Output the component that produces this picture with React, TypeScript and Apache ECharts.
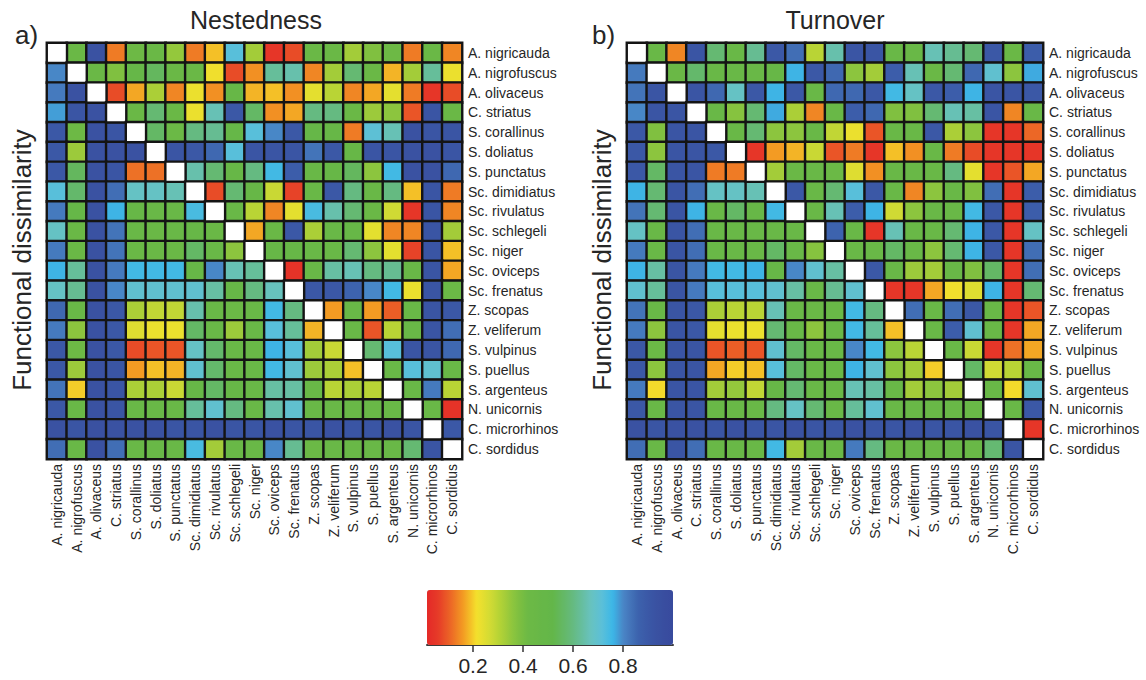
import React, { useEffect, useRef } from "react";
import * as echarts from "echarts";

const species = [
  "A. nigricauda", "A. nigrofuscus", "A. olivaceus", "C. striatus", "S. corallinus",
  "S. doliatus", "S. punctatus", "Sc. dimidiatus", "Sc. rivulatus", "Sc. schlegeli",
  "Sc. niger", "Sc. oviceps", "Sc. frenatus", "Z. scopas", "Z. veliferum",
  "S. vulpinus", "S. puellus", "S. argenteus", "N. unicornis", "C. microrhinos", "C. sordidus",
];

const nestedness: (number | null)[][] = [
  [null,0.45,0.93,0.13,0.42,0.45,0.35,0.13,0.19,0.72,0.33,0.05,0.08,0.45,0.45,0.33,0.38,0.42,0.13,0.45,0.14],
  [0.8,null,0.45,0.38,0.48,0.55,0.45,0.45,0.22,0.08,0.15,0.63,0.65,0.14,0.33,0.58,0.45,0.18,0.33,0.63,0.23],
  [0.82,0.93,null,0.08,0.17,0.32,0.14,0.23,0.15,0.47,0.18,0.19,0.15,0.24,0.3,0.14,0.17,0.24,0.13,0.05,0.08],
  [0.78,0.92,0.93,null,0.45,0.58,0.45,0.23,0.66,0.9,0.56,0.15,0.17,0.6,0.6,0.45,0.34,0.36,0.09,0.92,0.45],
  [0.9,0.42,0.93,0.92,null,0.56,0.44,0.6,0.62,0.48,0.72,0.8,0.9,0.48,0.47,0.13,0.71,0.66,0.93,0.92,0.92],
  [0.9,0.34,0.93,0.93,0.93,null,0.92,0.9,0.85,0.72,0.92,0.92,0.92,0.83,0.9,0.47,0.92,0.92,0.93,0.93,0.92],
  [0.9,0.55,0.93,0.92,0.12,0.12,null,0.65,0.58,0.47,0.6,0.75,0.88,0.46,0.47,0.55,0.36,0.75,0.93,0.93,0.85],
  [0.72,0.57,0.93,0.84,0.68,0.68,0.66,null,0.08,0.58,0.47,0.28,0.07,0.46,0.9,0.6,0.46,0.6,0.19,0.92,0.13],
  [0.82,0.48,0.93,0.76,0.47,0.46,0.46,0.74,null,0.46,0.3,0.14,0.24,0.74,0.65,0.58,0.45,0.27,0.05,0.92,0.14],
  [0.68,0.45,0.93,0.83,0.46,0.45,0.46,0.47,0.45,null,0.17,0.45,0.9,0.32,0.46,0.47,0.24,0.14,0.14,0.92,0.33],
  [0.82,0.45,0.93,0.83,0.45,0.45,0.45,0.56,0.46,0.36,null,0.47,0.47,0.46,0.46,0.58,0.36,0.24,0.07,0.92,0.19],
  [0.76,0.63,0.93,0.82,0.75,0.75,0.75,0.47,0.8,0.66,0.63,null,0.04,0.46,0.64,0.66,0.6,0.62,0.46,0.92,0.17],
  [0.68,0.62,0.93,0.8,0.7,0.7,0.7,0.7,0.64,0.47,0.6,0.67,null,0.9,0.9,0.86,0.8,0.75,0.23,0.92,0.43],
  [0.85,0.46,0.93,0.9,0.32,0.29,0.29,0.65,0.46,0.44,0.46,0.75,0.6,null,0.16,0.46,0.16,0.1,0.46,0.92,0.9],
  [0.82,0.36,0.93,0.9,0.25,0.23,0.23,0.56,0.46,0.34,0.46,0.72,0.63,0.18,null,0.46,0.09,0.3,0.46,0.92,0.84],
  [0.9,0.42,0.93,0.9,0.08,0.09,0.09,0.68,0.57,0.46,0.46,0.76,0.72,0.33,0.28,null,0.58,0.72,0.92,0.92,0.85],
  [0.9,0.34,0.93,0.92,0.16,0.19,0.18,0.7,0.57,0.46,0.46,0.75,0.7,0.34,0.32,0.19,null,0.46,0.72,0.7,0.46],
  [0.83,0.2,0.93,0.92,0.32,0.32,0.28,0.47,0.56,0.47,0.46,0.64,0.64,0.46,0.3,0.32,0.3,null,0.46,0.82,0.3],
  [0.9,0.46,0.93,0.92,0.46,0.46,0.46,0.63,0.7,0.6,0.46,0.65,0.7,0.46,0.46,0.46,0.46,0.46,null,0.46,0.04],
  [0.93,0.92,0.94,0.93,0.93,0.93,0.92,0.92,0.93,0.92,0.92,0.93,0.92,0.92,0.93,0.92,0.92,0.93,0.92,null,0.9],
  [0.84,0.46,0.93,0.84,0.46,0.46,0.46,0.74,0.33,0.46,0.46,0.8,0.62,0.44,0.46,0.46,0.46,0.46,0.58,0.92,null],
];

const turnover: (number | null)[][] = [
  [null,0.46,0.14,0.92,0.58,0.46,0.62,0.9,0.84,0.3,0.65,0.92,0.92,0.46,0.46,0.66,0.62,0.58,0.9,0.45,0.88],
  [0.82,null,0.45,0.57,0.46,0.46,0.46,0.47,0.76,0.9,0.85,0.36,0.33,0.88,0.66,0.45,0.58,0.85,0.7,0.36,0.77],
  [0.83,0.92,null,0.92,0.85,0.68,0.9,0.76,0.9,0.46,0.85,0.85,0.9,0.75,0.68,0.9,0.88,0.76,0.92,0.92,0.9],
  [0.8,0.92,0.92,null,0.46,0.37,0.58,0.77,0.32,0.14,0.46,0.88,0.85,0.38,0.38,0.58,0.66,0.64,0.92,0.14,0.46],
  [0.9,0.38,0.92,0.92,null,0.46,0.58,0.36,0.36,0.46,0.29,0.23,0.09,0.46,0.46,0.9,0.32,0.36,0.05,0.05,0.11],
  [0.9,0.36,0.92,0.92,0.9,null,0.05,0.16,0.18,0.28,0.09,0.13,0.05,0.19,0.15,0.46,0.13,0.08,0.05,0.05,0.05],
  [0.9,0.56,0.92,0.92,0.13,0.13,null,0.33,0.45,0.46,0.44,0.25,0.15,0.46,0.46,0.46,0.6,0.24,0.05,0.09,0.17],
  [0.76,0.58,0.92,0.84,0.68,0.68,0.66,null,0.9,0.46,0.58,0.72,0.9,0.46,0.14,0.36,0.46,0.38,0.84,0.05,0.88],
  [0.83,0.58,0.92,0.76,0.46,0.56,0.47,0.75,null,0.46,0.66,0.88,0.76,0.27,0.36,0.46,0.46,0.75,0.9,0.05,0.88],
  [0.68,0.46,0.92,0.84,0.46,0.46,0.46,0.46,0.46,null,0.86,0.46,0.05,0.66,0.46,0.46,0.58,0.76,0.9,0.05,0.68],
  [0.82,0.46,0.92,0.84,0.46,0.46,0.46,0.56,0.46,0.37,null,0.46,0.46,0.56,0.46,0.36,0.58,0.76,0.9,0.05,0.84],
  [0.76,0.64,0.92,0.82,0.75,0.75,0.76,0.47,0.8,0.7,0.64,null,0.9,0.46,0.34,0.33,0.46,0.38,0.56,0.05,0.84],
  [0.7,0.63,0.92,0.82,0.72,0.72,0.72,0.7,0.64,0.46,0.62,0.7,null,0.05,0.05,0.17,0.22,0.25,0.76,0.05,0.58],
  [0.83,0.46,0.92,0.9,0.32,0.3,0.3,0.66,0.46,0.45,0.46,0.75,0.6,null,0.84,0.46,0.84,0.9,0.46,0.05,0.09],
  [0.82,0.36,0.92,0.9,0.24,0.23,0.23,0.58,0.46,0.36,0.46,0.75,0.63,0.19,null,0.46,0.88,0.7,0.46,0.05,0.17],
  [0.9,0.44,0.92,0.92,0.09,0.1,0.09,0.7,0.56,0.46,0.46,0.8,0.75,0.36,0.3,null,0.46,0.28,0.05,0.12,0.17],
  [0.9,0.36,0.92,0.92,0.17,0.2,0.19,0.72,0.56,0.46,0.46,0.76,0.7,0.36,0.33,0.2,null,0.56,0.27,0.3,0.46],
  [0.82,0.21,0.92,0.92,0.33,0.35,0.29,0.47,0.58,0.46,0.46,0.66,0.64,0.46,0.33,0.36,0.33,null,0.46,0.21,0.7],
  [0.9,0.46,0.92,0.92,0.46,0.46,0.46,0.6,0.68,0.58,0.46,0.63,0.7,0.46,0.46,0.46,0.46,0.46,null,0.46,0.9],
  [0.93,0.92,0.93,0.93,0.92,0.93,0.92,0.92,0.93,0.92,0.92,0.93,0.92,0.92,0.93,0.92,0.92,0.93,0.92,null,0.05],
  [0.84,0.46,0.92,0.84,0.46,0.46,0.46,0.75,0.33,0.46,0.46,0.82,0.6,0.45,0.46,0.46,0.46,0.46,0.58,0.92,null],
];

const colorbarTicks = [0.2, 0.4, 0.6, 0.8];
const VMIN = 0.016;
const VMAX = 1.0;

// colour ramp anchors (style)
const anchors: [number, string][] = [
  [0.016, "#e42a28"], [0.06, "#e63a28"], [0.11, "#ec6726"], [0.16, "#f39a22"],
  [0.215, "#f4e12c"], [0.26, "#d8dc33"], [0.31, "#b2d236"], [0.37, "#85c23f"],
  [0.42, "#6cb945"], [0.52, "#63b649"], [0.6, "#65ba80"], [0.67, "#68c2be"],
  [0.715, "#5cc0d8"], [0.76, "#3bb7e8"], [0.8, "#4a86c6"], [0.86, "#3c62ad"],
  [0.93, "#3a52a2"], [1.0, "#384a9d"],
];

function hexToRgb(h: string) {
  const n = parseInt(h.slice(1), 16);
  return [(n >> 16) & 255, (n >> 8) & 255, n & 255];
}
function colorAt(v: number) {
  for (let i = 0; i < anchors.length - 1; i++) {
    const [v0, c0] = anchors[i];
    const [v1, c1] = anchors[i + 1];
    if (v <= v1 || i === anchors.length - 2) {
      const t = Math.max(0, Math.min(1, (v - v0) / (v1 - v0)));
      const a = hexToRgb(c0), b = hexToRgb(c1);
      const r = a.map((x, k) => Math.round(x + (b[k] - x) * t));
      return `rgb(${r[0]},${r[1]},${r[2]})`;
    }
  }
  return anchors[anchors.length - 1][1];
}
const rampColors = Array.from({ length: 81 }, (_, i) => colorAt(VMIN + ((VMAX - VMIN) * i) / 80));

function toCells(m: (number | null)[][]) {
  const out: number[][] = [];
  m.forEach((row, r) => row.forEach((v, c) => { if (v !== null) out.push([c, r, v]); }));
  return out;
}
const diagCells = species.map((_, i) => [i, i, 0]);

const FONT = "'Liberation Sans', Arial, Helvetica, sans-serif";
const TXT = "#262626";
const cellStyle = { borderColor: "#141414", borderWidth: 2.4 };

export default function App() {
  const ref = useRef<HTMLDivElement>(null);
  useEffect(() => {
    if (!ref.current) return;
    const chart = echarts.init(ref.current, undefined, { renderer: "svg" });
    const catX = (gi: number) => ({
      type: "category", gridIndex: gi, data: species, position: "bottom",
      axisLine: { show: false }, axisTick: { show: false }, splitLine: { show: false },
      axisLabel: { rotate: 90, interval: 0, fontSize: 14, color: TXT, fontFamily: FONT, margin: 5 },
    });
    const catY = (gi: number) => ({
      type: "category", gridIndex: gi, data: species, position: "right", inverse: true,
      axisLine: { show: false }, axisTick: { show: false }, splitLine: { show: false },
      axisLabel: { interval: 0, fontSize: 14, color: TXT, fontFamily: FONT, margin: 6 },
    });
    chart.setOption({
      animation: false,
      backgroundColor: "#ffffff",
      grid: [
        { left: 47, top: 43, width: 415, height: 416 },
        { left: 627, top: 43, width: 416, height: 416 },
        { left: 427, top: 590, width: 246, height: 55 },
      ],
      xAxis: [
        catX(0), catX(1),
        {
          type: "value", gridIndex: 2, min: VMIN, max: VMAX, position: "bottom",
          axisLine: { show: true, lineStyle: { color: "#3a3a3a", width: 2 } },
          axisTick: { show: true, customValues: colorbarTicks, length: 7, lineStyle: { color: "#333", width: 1.5 } },
          axisLabel: { customValues: colorbarTicks, fontSize: 21, color: TXT, fontFamily: FONT, margin: 10 },
          splitLine: { show: false },
        },
      ],
      yAxis: [
        catY(0), catY(1),
        { type: "value", gridIndex: 2, show: false, min: 0, max: 1 },
      ],
      visualMap: [
        {
          type: "continuous", min: VMIN, max: VMAX, seriesIndex: [0, 2],
          orient: "horizontal", left: 427, top: 590, itemWidth: 55, itemHeight: 246,
          calculable: false, hoverLink: false, padding: 0, showLabel: false,
          inRange: { color: rampColors },
        },
        {
          type: "continuous", min: 0, max: 1, seriesIndex: [1, 3], show: false,
          inRange: { color: ["#ffffff", "#ffffff"] },
        },
      ],
      graphic: [
        { type: "text", left: 15, top: 22, style: { text: "a)", font: `26px ${FONT}`, fill: TXT } },
        { type: "text", left: 592, top: 22, style: { text: "b)", font: `26px ${FONT}`, fill: TXT } },
        { type: "text", x: 256, y: 20, style: { text: "Nestedness", font: `25px ${FONT}`, fill: TXT, align: "center", verticalAlign: "middle" } },
        { type: "text", x: 835, y: 20, style: { text: "Turnover", font: `25px ${FONT}`, fill: TXT, align: "center", verticalAlign: "middle" } },
        { type: "text", x: 22, y: 260, rotation: Math.PI / 2, style: { text: "Functional dissimilarity", font: `26px ${FONT}`, fill: TXT, align: "center", verticalAlign: "middle" } },
        { type: "text", x: 602, y: 260, rotation: Math.PI / 2, style: { text: "Functional dissimilarity", font: `26px ${FONT}`, fill: TXT, align: "center", verticalAlign: "middle" } },
      ],
      series: [
        { type: "heatmap", xAxisIndex: 0, yAxisIndex: 0, data: toCells(nestedness), itemStyle: cellStyle, emphasis: { disabled: true } },
        { type: "heatmap", xAxisIndex: 0, yAxisIndex: 0, data: diagCells, itemStyle: cellStyle, emphasis: { disabled: true } },
        { type: "heatmap", xAxisIndex: 1, yAxisIndex: 1, data: toCells(turnover), itemStyle: cellStyle, emphasis: { disabled: true } },
        { type: "heatmap", xAxisIndex: 1, yAxisIndex: 1, data: diagCells, itemStyle: cellStyle, emphasis: { disabled: true } },
      ],
    });
    return () => chart.dispose();
  }, []);
  return <div ref={ref} style={{ position: "fixed", left: 0, top: 0, width: 1146, height: 680 }} />;
}
